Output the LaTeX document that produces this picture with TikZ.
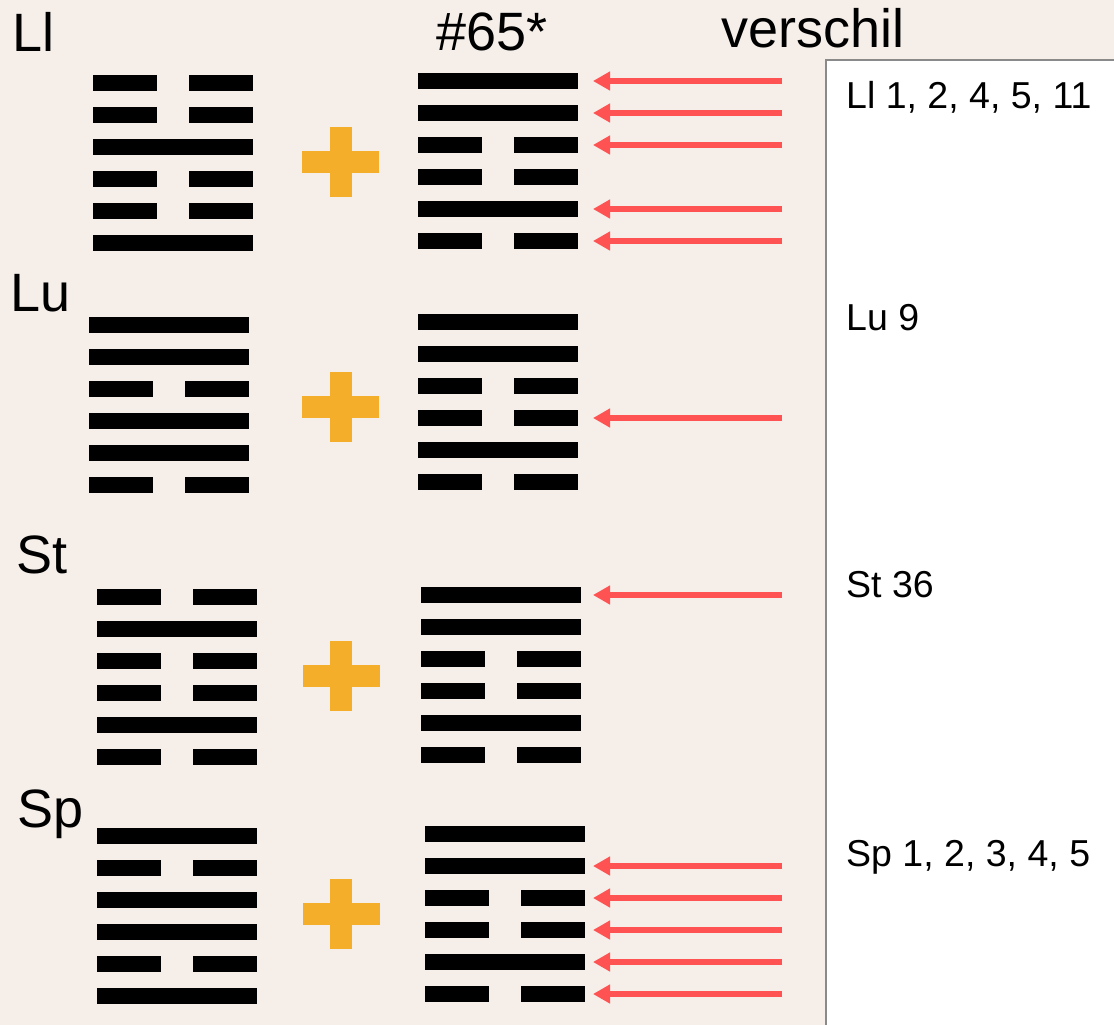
\documentclass[tikz,border=0pt]{standalone}
\usepackage{fontspec}
\setmainfont{Liberation Sans}
\usetikzlibrary{arrows.meta}
\definecolor{bgc}{HTML}{F5EEE9}
\definecolor{plusc}{HTML}{F5AE29}
\definecolor{arrc}{HTML}{FF5252}
\definecolor{boxc}{HTML}{8A8A8A}
\tikzset{
  head/.style={font=\fontsize{54}{62}\selectfont, anchor=base west, inner sep=0pt},
  note/.style={font=\fontsize{37.5}{44}\selectfont, anchor=base west, inner sep=0pt},
  yao/.style={fill=black},
  plusfill/.style={fill=plusc},
  diffarrow/.style={draw=arrc, line width=6pt, -{Triangle[length=17pt,width=18pt]}},
  box/.style={draw=boxc, fill=white, line width=1.5pt}
}
% #1 left x, #2 top y, #3 list (1 solid, 0 broken), top to bottom
\newcommand\hexagram[3]{%
  \foreach \b [count=\i from 0] in {#3} {%
    \pgfmathsetmacro\yy{#2+32*\i}%
    \ifnum\b=1
      \fill[yao] (#1,\yy) rectangle ++(160,16);
    \else
      \fill[yao] (#1,\yy) rectangle ++(64,16);
      \fill[yao] ({#1+96},\yy) rectangle ++(64,16);
    \fi
  }%
}
\newcommand\plussign[2]{%
  \fill[plusfill] ({#1-11},{#2-35}) rectangle ({#1+11},{#2+35});
  \fill[plusfill] ({#1-38.5},{#2-11}) rectangle ({#1+38.5},{#2+11});
}
\begin{document}
\begin{tikzpicture}[x=1pt,y=-1pt]
\useasboundingbox (0,0) rectangle (1114,1025);
\clip (0,0) rectangle (1114,1025);
\fill[bgc] (0,0) rectangle (1114,1025);
\draw[box] (826,60) rectangle (1130,1040);

% headers
\node[head] (hLl) at (12,52) {Ll};
\node[head] (h65) at (436,51) {\#65*};
\node[head] (hver) at (721,48) {verschil};
\node[head] (hLu) at (10,311) {Lu};
\node[head] (hSt) at (16,573) {St};
\node[head] (hSp) at (17,827) {Sp};

% notes in box
\node[note] (nLl) at (846,108) {Ll 1, 2, 4, 5, 11};
\node[note] (nLu) at (846,330) {Lu 9};
\node[note] (nSt) at (846,597) {St 36};
\node[note] (nSp) at (846,866) {Sp 1, 2, 3, 4, 5};

% group 1
\hexagram{93}{75}{0,0,1,0,0,1}
\plussign{340.5}{162}
\hexagram{418}{73}{1,1,0,0,1,0}
% group 2
\hexagram{89}{317}{1,1,0,1,1,0}
\plussign{340.5}{406.5}
\hexagram{418}{314}{1,1,0,0,1,0}
% group 3
\hexagram{97}{589}{0,1,0,0,1,0}
\plussign{341}{675.5}
\hexagram{421}{587}{1,1,0,0,1,0}
% group 4
\hexagram{97}{828}{1,0,1,1,0,1}
\plussign{341}{914}
\hexagram{425}{826}{1,1,0,0,1,0}

% arrows
\foreach \n/\y in {a1/81,a2/113,a3/145,a5/209,a6/241,b4/418,c1/595,d2/866,d3/898,d4/930,d5/962,d6/994} {
  \coordinate (\n s) at (782,\y);
  \coordinate (\n e) at (593,\y);
  \draw[diffarrow] (\n s) -- (\n e);
}
\end{tikzpicture}
\end{document}
